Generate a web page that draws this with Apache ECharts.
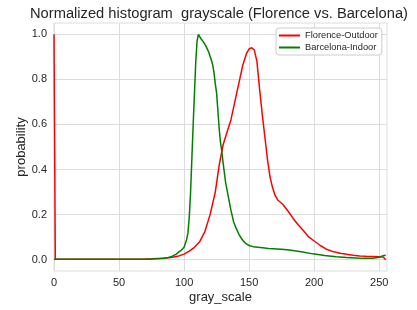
<!DOCTYPE html>
<html>
<head>
<meta charset="utf-8">
<script src="https://cdn.jsdelivr.net/npm/echarts@6/dist/echarts.min.js"></script>
<style>html,body{margin:0;padding:0;background:#fff}#c{width:417px;height:310px}</style>
</head>
<body>
<div id="c"></div>
<script>
var titleText = 'Normalized histogram  grayscale (Florence vs. Barcelona)';
var seriesNames = ['Florence-Outdoor', 'Barcelona-Indoor'];
var xTicks = [0, 50, 100, 150, 200, 250];
var yTicks = [0, 0.2, 0.4, 0.6, 0.8, 1.0];

var florenceGray = [0,1,10,20,30,40,50,60,70,75,80,85,90,95,100,104,108,112,116,120,124,127,130,133,136,139,142,145,148,150,152,154,156,158,160,162,164,166,168,170,172,174,176,180,184,188,192,196,200,205,210,215,220,225,230,235,240,245,250,253,255];
var florenceProb = [1.0,0.003,0.002,0.002,0.002,0.002,0.002,0.002,0.003,0.004,0.006,0.008,0.010,0.015,0.025,0.038,0.055,0.080,0.125,0.200,0.300,0.420,0.510,0.565,0.620,0.700,0.780,0.860,0.915,0.935,0.940,0.930,0.880,0.760,0.650,0.550,0.450,0.370,0.320,0.285,0.265,0.255,0.245,0.215,0.182,0.153,0.127,0.100,0.083,0.062,0.045,0.035,0.029,0.024,0.020,0.017,0.015,0.014,0.013,0.012,0.0];

var barcelonaGray = [0,10,20,30,40,50,60,70,75,80,85,88,91,94,96,98,100,102,103,104,105,106,107,108,109,110,111,112,113,115,117,119,121,122,123,124,125,126,127,128,129,130,132,134,136,138,140,142,144,146,148,150,153,157,165,175,181,190,199,208,217,225,232,238,245,250,253,254,255];
var barcelonaProb = [0.002,0.002,0.002,0.002,0.002,0.002,0.002,0.002,0.003,0.004,0.006,0.010,0.016,0.025,0.035,0.043,0.055,0.090,0.120,0.190,0.300,0.450,0.600,0.740,0.880,0.970,1.000,0.995,0.980,0.965,0.945,0.920,0.885,0.864,0.830,0.780,0.740,0.660,0.580,0.520,0.480,0.430,0.340,0.280,0.220,0.170,0.140,0.115,0.095,0.080,0.070,0.063,0.058,0.055,0.050,0.047,0.043,0.035,0.026,0.019,0.013,0.010,0.008,0.006,0.007,0.011,0.018,0.022,0.020];

function pairs(xs, ys) { return xs.map(function (x, i) { return [x, ys[i]]; }); }

var FONT = 'Liberation Sans, Arial, sans-serif';
var TXT = '#262626';
var GRID = '#dcdcdc';

var chart = echarts.init(document.getElementById('c'), null, {renderer: 'canvas'});
chart.setOption({
  animation: false,
  backgroundColor: '#fff',
  title: {
    text: titleText, left: 25, top: 1,
    textStyle: {fontFamily: FONT, fontSize: 14.7, fontWeight: 'normal', color: TXT}
  },
  legend: {
    data: seriesNames, orient: 'vertical', left: 276, top: 28,
    icon: 'rect', itemWidth: 21, itemHeight: 2, itemGap: 3,
    padding: [3, 4, 3, 3], borderColor: '#cccccc', borderWidth: 1, borderRadius: 3,
    backgroundColor: '#fff',
    textStyle: {fontFamily: FONT, fontSize: 9.3, color: TXT}
  },
  grid: {
    left: 54, right: 30, top: 23, bottom: 39, show: true,
    borderColor: GRID, borderWidth: 1, backgroundColor: '#fff'
  },
  xAxis: {
    type: 'value', min: 0, max: 256,
    name: 'gray_scale', nameLocation: 'middle', nameGap: 20, nameMoveOverlap: false,
    nameTextStyle: {fontFamily: FONT, fontSize: 13, color: TXT},
    axisLine: {show: false}, axisTick: {show: false, customValues: xTicks},
    axisLabel: {customValues: xTicks, fontFamily: FONT, fontSize: 11, color: TXT, margin: 6},
    splitLine: {show: true, lineStyle: {color: GRID, width: 1}}
  },
  yAxis: {
    type: 'value', min: -0.05, max: 1.05,
    name: 'probability', nameLocation: 'middle', nameGap: 26, nameMoveOverlap: false,
    nameTextStyle: {fontFamily: FONT, fontSize: 13, color: TXT},
    axisLine: {show: false}, axisTick: {show: false, customValues: yTicks},
    axisLabel: {customValues: yTicks, fontFamily: FONT, fontSize: 11, color: TXT, margin: 7,
      formatter: function (v) { return v.toFixed(1); }},
    splitLine: {show: true, lineStyle: {color: GRID, width: 1}}
  },
  series: [
    {name: seriesNames[0], type: 'line', data: pairs(florenceGray, florenceProb),
     showSymbol: false, symbol: 'none', lineStyle: {color: '#ff0000', width: 1.5}, itemStyle: {color: '#ff0000'}, z: 2},
    {name: seriesNames[1], type: 'line', data: pairs(barcelonaGray, barcelonaProb),
     showSymbol: false, symbol: 'none', lineStyle: {color: '#008000', width: 1.5}, itemStyle: {color: '#008000'}, z: 3}
  ]
});
</script>
</body>
</html>
